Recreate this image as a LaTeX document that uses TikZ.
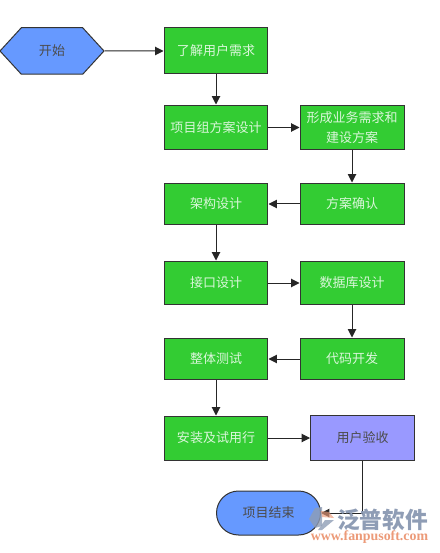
\documentclass[tikz,border=0pt]{standalone}
\usepackage{fontspec}
\setmainfont{Noto Sans CJK SC}
\newfontfamily\urlfont{Liberation Serif}
\usetikzlibrary{arrows.meta,shapes.misc,shapes.symbols}
\definecolor{vertbloc}{HTML}{33CC33}
\definecolor{bleubloc}{HTML}{6699FF}
\definecolor{violetbloc}{HTML}{9999FF}
\definecolor{traitbloc}{HTML}{333333}
\definecolor{grislogo}{HTML}{8F9DB5}
\definecolor{orangelogo}{HTML}{EC9A78}
\tikzset{
	bloc/.style={draw=traitbloc, line width=0.02cm, inner sep=0pt, align=center,
		minimum width=2.08cm, font=\fontsize{7.4}{11}\selectfont},
	etape/.style={bloc, rectangle, fill=vertbloc, text=white!82!vertbloc},
	recette/.style={bloc, rectangle, fill=violetbloc, text=black!70},
	debut/.style={bloc, signal, signal to=west and east, signal pointer angle=95, fill=bleubloc, text=black!70},
	fin/.style={bloc, rounded rectangle, fill=bleubloc, text=black!70},
	fleche/.style={draw=black!85, line width=0.02cm, -{Triangle[width=0.17cm,length=0.17cm]}},
}
\begin{document}
\begin{tikzpicture}[x=0.02cm, y=-0.02cm]
	\useasboundingbox (0,0) rectangle (439,553);
	\node[debut, minimum height=0.93cm] (debut) at (52,51) {开始};
	\node[etape, minimum height=0.92cm] (besoin) at (216,51) {了解用户需求};
	\node[etape, minimum height=0.90cm] (projet) at (216,127.5) {项目组方案设计};
	\node[etape, minimum height=0.90cm] (metier) at (352,127.5) {形成业务需求和\\建设方案};
	\node[etape, minimum height=0.84cm] (confirm) at (352,204) {方案确认};
	\node[etape, minimum height=0.84cm] (archi) at (216,204) {架构设计};
	\node[etape, minimum height=0.88cm] (interface) at (216,283) {接口设计};
	\node[etape, minimum height=0.88cm] (base) at (352,283) {数据库设计};
	\node[etape, minimum height=0.84cm] (code) at (352,359) {代码开发};
	\node[etape, minimum height=0.84cm] (test) at (216,359) {整体测试};
	\node[etape, minimum height=0.88cm] (install) at (216,438) {安装及试用行};
	\node[recette, minimum height=0.90cm] (recette) at (362.5,438) {用户验收};
	\node[fin, minimum height=0.88cm] (fin) at (268.5,513) {项目结束};
	% liaisons
	\draw[fleche] (debut) -- (besoin);
	\draw[fleche] (besoin) -- (projet);
	\draw[fleche] (projet) -- (metier);
	\draw[fleche] (metier) -- (confirm);
	\draw[fleche] (confirm) -- (archi);
	\draw[fleche] (archi) -- (interface);
	\draw[fleche] (interface) -- (base);
	\draw[fleche] (base) -- (code);
	\draw[fleche] (code) -- (test);
	\draw[fleche] (test) -- (install);
	\draw[fleche] (install) -- (recette);
	\draw[fleche] (recette) |- (fin);
	% filigrane
	\fill[grislogo, opacity=0.8] (315,508)--(322,507)--(322,526)--(315,528)--(309,519)--cycle;
	\fill[orangelogo, opacity=0.65] (321,511)--(329,512)--(334,518)--(322,517)--cycle;
	\fill[grislogo, opacity=0.8] (325,520)--(334,520)--(322,530)--(318,530)--cycle;
	\node[text=grislogo, inner sep=0pt, font=\fontsize{12.9}{14}\bfseries\selectfont] (marque) at (382.5,520) {泛普软件};
	\node[text=orangelogo, inner sep=0pt, font=\fontsize{7.9}{9}\urlfont\bfseries\selectfont] (site) at (369.5,537.5) {www.fanpusoft.com};
\end{tikzpicture}
\end{document}
